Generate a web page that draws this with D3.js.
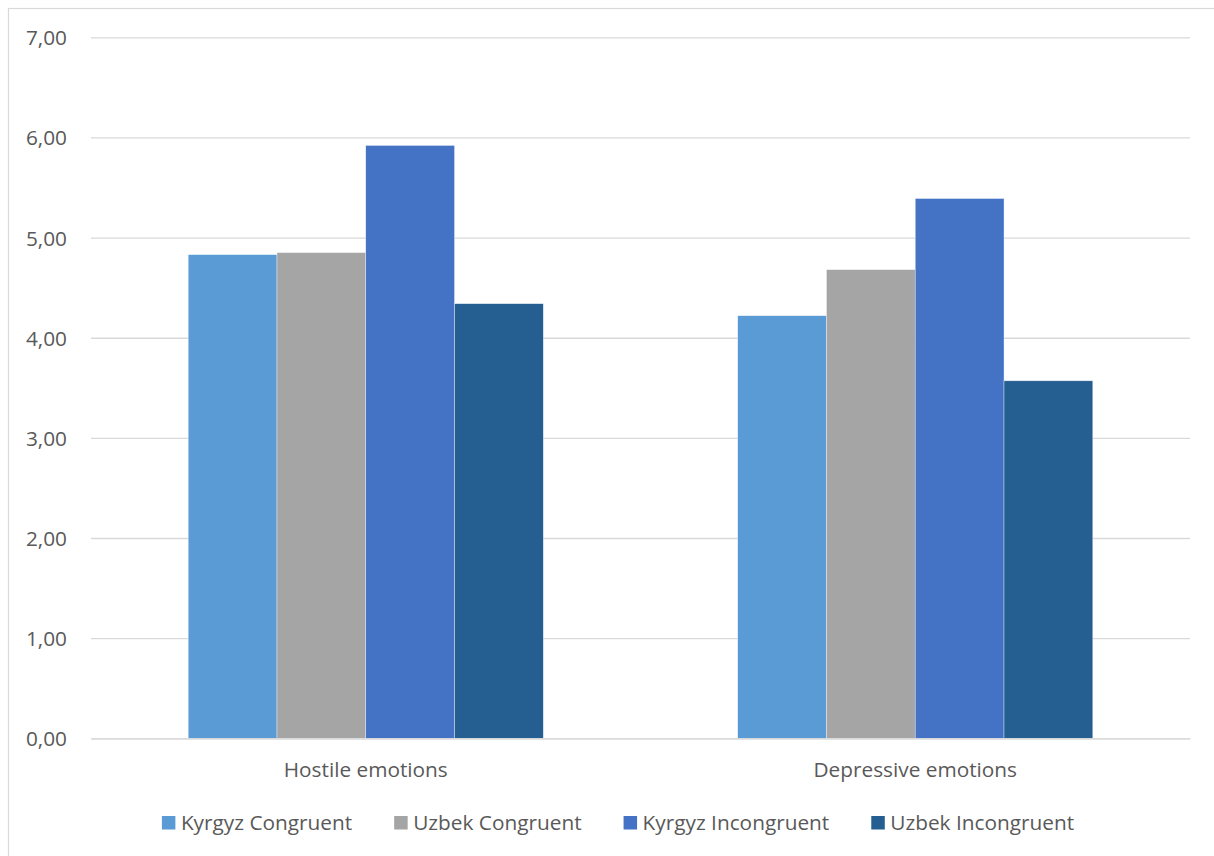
<!DOCTYPE html>
<html>
<head>
<meta charset="utf-8">
<script src="https://cdn.jsdelivr.net/npm/d3@7"></script>
<style>
  html, body { margin: 0; padding: 0; background: #fff; }
  svg { display: block; }
  text { font-family: "Open Sans", "Noto Sans", sans-serif; fill: #595959; }
</style>
</head>
<body>
<svg id="chart" width="1214" height="856"></svg>
<script>
// Emotion categories and mean scores per group
const categories = ["Hostile emotions", "Depressive emotions"];
const seriesNames = ["Kyrgyz Congruent", "Uzbek Congruent", "Kyrgyz Incongruent", "Uzbek Incongruent"];
const kyrgyzCongruent = [4.83, 4.22];
const uzbekCongruent = [4.85, 4.68];
const kyrgyzIncongruent = [5.92, 5.39];
const uzbekIncongruent = [4.34, 3.57];
const yTicks = [0, 1, 2, 3, 4, 5, 6, 7];
const colors = ["#5B9BD5", "#A5A5A5", "#4472C4", "#255E91"];

const seriesValues = [kyrgyzCongruent, uzbekCongruent, kyrgyzIncongruent, uzbekIncongruent];

const svg = d3.select("#chart");
const plot = { left: 91, right: 1190, top: 37.3, bottom: 738.3 };
const fontSize = "20.8px";

// Chart frame
svg.append("rect")
  .attr("x", 8.5).attr("y", 8.5)
  .attr("width", 1240).attr("height", 900)
  .attr("fill", "#fff").attr("stroke", "#D9D9D9").attr("stroke-width", 1.2);

const y = d3.scaleLinear().domain([0, 7]).range([plot.bottom, plot.top]);
const x0 = d3.scaleBand().domain(categories).range([plot.left, plot.right]).paddingInner(0).paddingOuter(0);
// Bars occupy band / (4 + 2.19 gap)
const groupWidth = x0.bandwidth() * 4 / 6.19;
const x1 = d3.scaleBand().domain(seriesNames).range([0, groupWidth]).padding(0);

// Gridlines and value labels
const yAxis = d3.axisLeft(y).tickValues(yTicks)
  .tickSize(-(plot.right - plot.left))
  .tickFormat(d => d3.format(".2f")(d).replace(".", ","));
const gy = svg.append("g").attr("transform", `translate(${plot.left},0)`).call(yAxis);
gy.select(".domain").remove();
gy.selectAll(".tick line").attr("stroke", "#D9D9D9").attr("stroke-width", 1.3);
gy.selectAll(".tick text")
  .attr("x", -24).attr("dy", "0.36em")
  .style("font-size", fontSize).attr("fill", "#595959")
  .style("font-family", "'Open Sans', sans-serif");

// Bars
const groups = svg.append("g").selectAll("g")
  .data(categories)
  .join("g")
  .attr("transform", d => `translate(${x0(d) + (x0.bandwidth() - groupWidth) / 2},0)`);

groups.selectAll("rect")
  .data((c, ci) => seriesNames.map((s, si) => ({ s, v: seriesValues[si][ci], i: si })))
  .join("rect")
  .attr("x", d => x1(d.s))
  .attr("y", d => y(d.v))
  .attr("width", x1.bandwidth())
  .attr("height", d => y(0) - y(d.v))
  .attr("fill", d => colors[d.i])
  .attr("stroke", "#ffffff").attr("stroke-width", 0.6).attr("stroke-opacity", 0.6);

// Category axis
const xAxis = d3.axisBottom(x0).tickSize(0).tickPadding(0);
const gx = svg.append("g").attr("transform", `translate(0,${plot.bottom})`).call(xAxis);
gx.select(".domain").attr("stroke", "#D9D9D9").attr("stroke-width", 1.3);
gx.selectAll(".tick text")
  .attr("y", 39).attr("dy", 0)
  .style("font-size", fontSize).attr("fill", "#595959")
  .style("font-family", "'Open Sans', sans-serif");

// Legend
const legend = svg.append("g");
const items = legend.selectAll("g").data(seriesNames).join("g");
items.append("rect")
  .attr("width", 13.5).attr("height", 13.5)
  .attr("y", 816)
  .attr("fill", (d, i) => colors[i]);
items.append("text")
  .attr("x", 19).attr("y", 829.5)
  .style("font-size", fontSize)
  .text(d => d);
let widths = [];
items.each(function () { widths.push(this.getBBox().width); });
const spacing = 42;
const total = d3.sum(widths) + spacing * (widths.length - 1);
let cx = 618 - total / 2;
items.each(function (d, i) {
  d3.select(this).attr("transform", `translate(${cx},0)`);
  cx += widths[i] + spacing;
});
</script>
</body>
</html>
